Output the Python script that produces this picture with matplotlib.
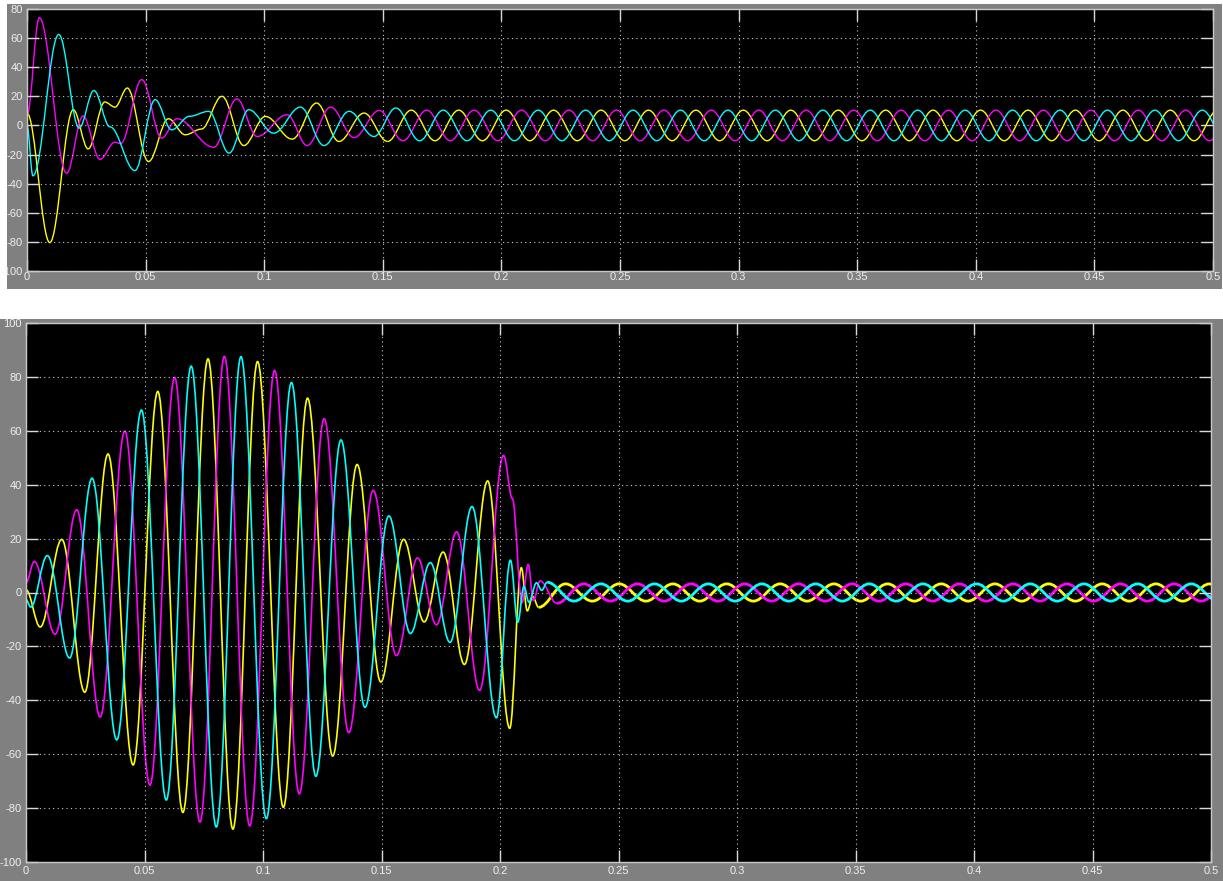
import matplotlib
matplotlib.use('Agg')
import matplotlib.pyplot as plt
from matplotlib.path import Path
from matplotlib.patches import PathPatch, Rectangle

# --- top scope: turning points (time [s], value) of each phase during the transient
top_yellow_t = [0.0, 0.0096, 0.0195, 0.0258, 0.0328, 0.0371, 0.0423, 0.0512, 0.0596, 0.0667,
                0.0735, 0.0822, 0.0914, 0.1005, 0.1118, 0.1221, 0.1315, 0.1421, 0.1520]
top_yellow_v = [8.5, -80.5, 10.8, -16.1, 16.1, 12.6, 25.7, -24.8, 4.6, -6.4,
                -2.5, 20.0, -13.8, 6.2, -9.4, 15.4, -11.0, 8.5, -11.0]
top_magenta_t = [0.0, 0.0052, 0.0167, 0.0236, 0.0308, 0.0370, 0.0395, 0.0484, 0.0568, 0.0632,
                 0.0787, 0.0885, 0.0970, 0.1097, 0.1181, 0.1280, 0.1379, 0.1485]
top_magenta_v = [7.0, 74.0, -32.8, 6.5, -23.3, -11.5, -12.5, 31.5, -8.7, 4.6,
                 -15.0, 18.2, -7.6, 7.4, -13.8, 12.6, -8.3, 10.3]
top_cyan_t = [0.0, 0.0025, 0.0134, 0.0220, 0.0282, 0.0350, 0.0455, 0.0540, 0.0610, 0.0685,
              0.0766, 0.0852, 0.0935, 0.1040, 0.1153, 0.1252, 0.1358, 0.1463, 0.1555]
top_cyan_v = [0.0, -34.6, 62.5, -1.8, 24.0, -1.0, -31.0, 17.7, -3.0, 6.3,
              9.7, -19.0, 10.8, -5.3, 12.6, -13.8, 9.7, -7.6, 12.0]
top_amp = 10.5        # steady state peak
top_period = 0.020    # steady state period

# --- bottom scope
bot_yellow_t = [0.0, 0.0060, 0.0151, 0.0248, 0.0346, 0.0452, 0.0556, 0.0662, 0.0768, 0.0873,
                0.0977, 0.1086, 0.1188, 0.1294, 0.1397, 0.1497, 0.1593, 0.1680, 0.1760, 0.1850,
                0.1948, 0.2041, 0.2090, 0.2115, 0.2138, 0.2163]
bot_yellow_v = [1.0, -12.8, 19.7, -37.0, 51.4, -64.0, 74.6, -81.6, 86.7, -87.8,
                85.7, -79.7, 72.1, -60.7, 47.5, -33.2, 19.7, -10.9, 15.0, -26.7,
                41.4, -50.4, 9.2, -6.8, -1.5, -5.5]
bot_magenta_t = [0.0, 0.0035, 0.0123, 0.0214, 0.0313, 0.0417, 0.0523, 0.0627, 0.0734, 0.0837,
                 0.0944, 0.1049, 0.1153, 0.1258, 0.1362, 0.1465, 0.1563, 0.1652, 0.1732, 0.1817,
                 0.1914, 0.2015, 0.2052, 0.2093, 0.2119, 0.2141, 0.2169, 0.2240]
bot_magenta_v = [3.6, 11.5, -15.5, 30.7, -46.2, 59.9, -71.5, 79.8, -85.2, 87.6,
                 -86.6, 82.4, -74.7, 64.5, -52.0, 37.9, -23.4, 12.8, -12.0, 22.5,
                 -36.3, 50.9, 34.9, -3.8, 10.4, -2.9, 4.3, -4.0]
bot_cyan_t = [0.0, 0.0020, 0.0090, 0.0184, 0.0279, 0.0383, 0.0487, 0.0592, 0.0697, 0.0803,
              0.0907, 0.1014, 0.1120, 0.1223, 0.1329, 0.1430, 0.1531, 0.1622, 0.1706, 0.1789,
              0.1882, 0.1985, 0.2044, 0.2075, 0.2101, 0.2122, 0.2154, 0.2176, 0.2199]
bot_cyan_v = [-2.6, -5.4, 13.7, -24.3, 42.4, -54.7, 67.7, -77.0, 84.0, -87.0,
              87.5, -83.9, 77.9, -68.2, 56.6, -42.6, 28.4, -15.2, 11.1, -18.5,
              31.9, -46.5, 12.0, -11.0, 2.3, -3.6, 3.6, 0.8, 3.8]
bot_amp = 3.2
bot_period = 0.02265

x_ticks = [0, 0.05, 0.1, 0.15, 0.2, 0.25, 0.3, 0.35, 0.4, 0.45, 0.5]
x_labels = ['0', '0.05', '0.1', '0.15', '0.2', '0.25', '0.3', '0.35', '0.4', '0.45', '0.5']
top_y_ticks = [-100, -80, -60, -40, -20, 0, 20, 40, 60, 80]
bot_y_ticks = [-100, -80, -60, -40, -20, 0, 20, 40, 60, 80, 100]

colors = {'yellow': '#ffff00', 'magenta': '#ff00ff', 'cyan': '#00ffff'}

plt.rcParams['axes.unicode_minus'] = False
plt.rcParams['font.family'] = ['Liberation Sans Narrow', 'Liberation Sans', 'DejaVu Sans']


def wave_path(ts, vs, k=0.364):
    # smooth S-shaped bezier between successive turning points (close to half a sine)
    verts = [(ts[0], vs[0])]
    codes = [Path.MOVETO]
    for i in range(1, len(ts)):
        dt = ts[i] - ts[i - 1]
        verts += [(ts[i - 1] + k * dt, vs[i - 1]), (ts[i] - k * dt, vs[i]), (ts[i], vs[i])]
        codes += [Path.CURVE4] * 3
    return Path(verts, codes)


def steady_points(t_last, v_last, amp, period, t_end=0.52):
    ts, vs = [t_last], [v_last]
    sign = -1 if v_last > 0 else 1
    t = t_last + period / 2
    while t < t_end + period:
        ts.append(t)
        vs.append(sign * amp)
        sign = -sign
        t += period / 2
    return ts, vs


def setup_scope(ax, yticks, ylim, xpad):
    ax.set_facecolor('black')
    ax.set_xlim(0, 0.5)
    ax.set_ylim(*ylim)
    ax.set_xticks(x_ticks)
    ax.set_xticklabels(x_labels)
    ax.set_yticks(yticks)
    ax.set_yticklabels([str(v) for v in yticks])
    ax.tick_params(direction='in', length=8.5, width=1, color='#d8d8d8',
                   top=True, right=True, labelsize=8, labelcolor='#eeeeee')
    ax.tick_params(axis='x', pad=xpad)
    ax.tick_params(axis='y', pad=3)
    ax.grid(True, color='#c8c8c8', linestyle=(0, (1, 3)), linewidth=0.8)
    for sp in ax.spines.values():
        sp.set_color('#c8c8c8')
        sp.set_linewidth(1)


def draw_phases(ax, phases, amp, period, lw, lw_steady):
    for name, ts, vs in phases:
        ax.add_patch(PathPatch(wave_path(ts, vs), fill=False, edgecolor=colors[name], lw=lw))
        st, sv = steady_points(ts[-1], vs[-1], amp, period)
        ax.add_patch(PathPatch(wave_path(st, sv), fill=False, edgecolor=colors[name], lw=lw_steady))


W, H = 1223, 881
fig = plt.figure(figsize=(W / 100, H / 100), dpi=100, facecolor='white')

# grey scope frames
fig.add_artist(Rectangle((7 / W, 1 - 289 / H), 1215 / W, 285 / H, transform=fig.transFigure,
                         facecolor='#808080', edgecolor='none', zorder=-1))
fig.add_artist(Rectangle((0, 0), 1, (H - 319) / H, transform=fig.transFigure,
                         facecolor='#808080', edgecolor='none', zorder=-1))

ax1 = fig.add_axes([27 / W, 1 - 271 / H, 1186 / W, 262 / H])
setup_scope(ax1, top_y_ticks, (-100, 80), 1)
draw_phases(ax1, [('yellow', top_yellow_t, top_yellow_v),
                  ('magenta', top_magenta_t, top_magenta_v),
                  ('cyan', top_cyan_t, top_cyan_v)], top_amp, top_period, 1.0, 1.0)

ax2 = fig.add_axes([26 / W, 1 - 862 / H, 1185 / W, 539 / H])
setup_scope(ax2, bot_y_ticks, (-100, 100), 3)
draw_phases(ax2, [('yellow', bot_yellow_t, bot_yellow_v),
                  ('magenta', bot_magenta_t, bot_magenta_v),
                  ('cyan', bot_cyan_t, bot_cyan_v)], bot_amp, bot_period, 1.2, 2.0)

plt.savefig('out.png', dpi=100, facecolor='white')
